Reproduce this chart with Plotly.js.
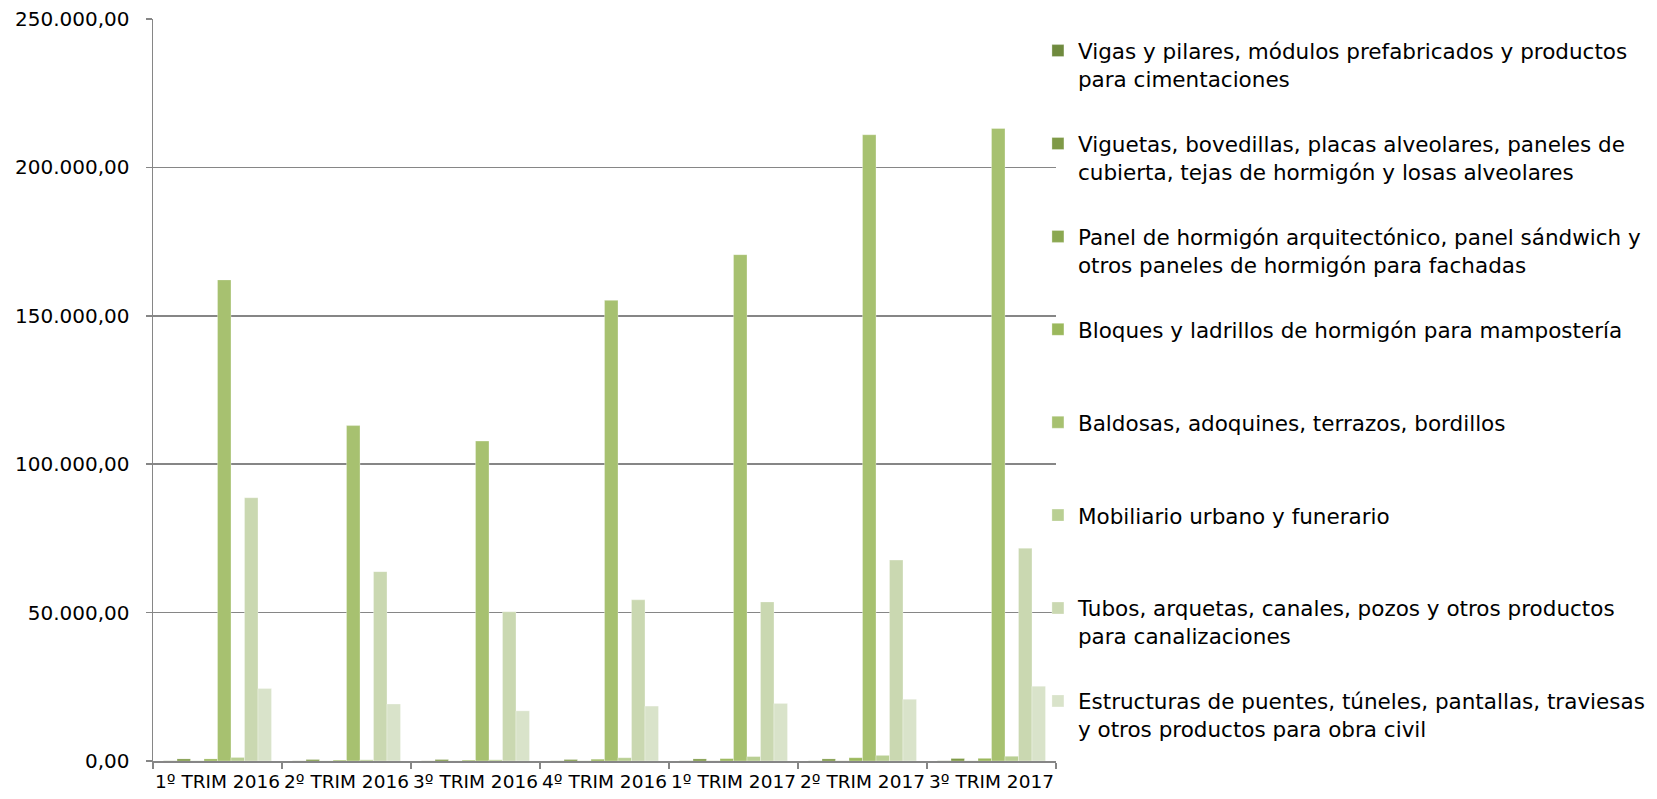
<!DOCTYPE html>
<html>
<head>
<meta charset="utf-8">
<script src="https://cdn.plot.ly/plotly-3.0.1.min.js"></script>
<style>html,body{margin:0;padding:0;background:#fff;}#chart{width:1657px;height:799px;}</style>
</head>
<body>
<div id="chart"></div>
<script>
const categories = ["1º TRIM 2016","2º TRIM 2016","3º TRIM 2016","4º TRIM 2016","1º TRIM 2017","2º TRIM 2017","3º TRIM 2017"];

const seriesNames = [
  "Vigas y pilares, módulos prefabricados y productos<br>para cimentaciones",
  "Viguetas, bovedillas, placas alveolares, paneles de<br>cubierta, tejas de hormigón y losas alveolares",
  "Panel de hormigón arquitectónico, panel sándwich y<br>otros paneles de hormigón para fachadas",
  "Bloques y ladrillos de hormigón para mampostería<br> ",
  "Baldosas, adoquines, terrazos, bordillos<br> ",
  "Mobiliario urbano y funerario<br> ",
  "Tubos, arquetas, canales, pozos y otros productos<br>para canalizaciones",
  "Estructuras de puentes, túneles, pantallas, traviesas<br>y otros productos para obra civil"
];

const vigas       = [60, 40, 40, 50, 60, 50, 60];
const viguetas    = [700, 500, 500, 500, 700, 700, 850];
const panel       = [40, 30, 30, 40, 50, 50, 40];
const bloques     = [700, 300, 300, 600, 800, 1100, 900];
const baldosas    = [162100, 113000, 107800, 155200, 170600, 211000, 213100];
const mobiliario  = [1200, 400, 400, 1100, 1500, 1900, 1600];
const tubos       = [88700, 63800, 50300, 54300, 53600, 67700, 71700];
const estructuras = [24400, 19200, 16900, 18500, 19400, 20800, 25200];

const seriesValues = [vigas, viguetas, panel, bloques, baldosas, mobiliario, tubos, estructuras];
const colors = ["#6f8a3e", "#7f9a47", "#8ba851", "#9bb85c", "#a7c170", "#b9cf93", "#cad8b1", "#d9e3ca"];

const traces = seriesValues.map((vals, i) => ({
  type: "bar",
  name: seriesNames[i],
  x: categories,
  y: vals,
  legendgroup: "g" + i,
  marker: {color: colors[i], line: {color: "rgba(255,255,255,0.5)", width: 0.6}},
  hoverinfo: "x+y"
}));

const layout = {
  width: 1657,
  height: 799,
  margin: {l: 153, r: 601, t: 19, b: 38, pad: 0, autoexpand: false},
  paper_bgcolor: "#ffffff",
  plot_bgcolor: "#ffffff",
  separators: ",.",
  barmode: "group",
  bargap: 0.163,
  bargroupgap: 0,
  font: {family: "DejaVu Sans, sans-serif", size: 20, color: "#000000"},
  xaxis: {
    type: "category",
    tickangle: 0,
    ticks: "outside",
    tickson: "boundaries",
    ticklen: 6,
    tickcolor: "#868686",
    tickwidth: 1.5,
    ticklabelstandoff: 3,
    showline: true,
    linecolor: "#868686",
    linewidth: 1.5,
    showgrid: false,
    zeroline: false,
    tickfont: {size: 18.5, color: "#000"}
  },
  yaxis: {
    range: [0, 250000],
    dtick: 50000,
    tick0: 0,
    tickformat: ",.2f",
    ticks: "outside",
    ticklen: 6,
    tickcolor: "#868686",
    tickwidth: 1.5,
    ticklabelstandoff: 12,
    showline: true,
    linecolor: "#868686",
    linewidth: 1.5,
    showgrid: true,
    gridcolor: "#868686",
    gridwidth: 1.5,
    zeroline: false,
    tickfont: {size: 20, color: "#000"}
  },
  showlegend: true,
  legend: {
    x: 0.98,
    xanchor: "left",
    y: 0.985,
    yanchor: "top",
    font: {size: 21.5, color: "#000"},
    tracegroupgap: 34,
    traceorder: "grouped",
    valign: "top",
    bgcolor: "rgba(0,0,0,0)",
    borderwidth: 0
  }
};

Plotly.newPlot("chart", traces, layout, {displayModeBar: false, staticPlot: true});
</script>
</body>
</html>
